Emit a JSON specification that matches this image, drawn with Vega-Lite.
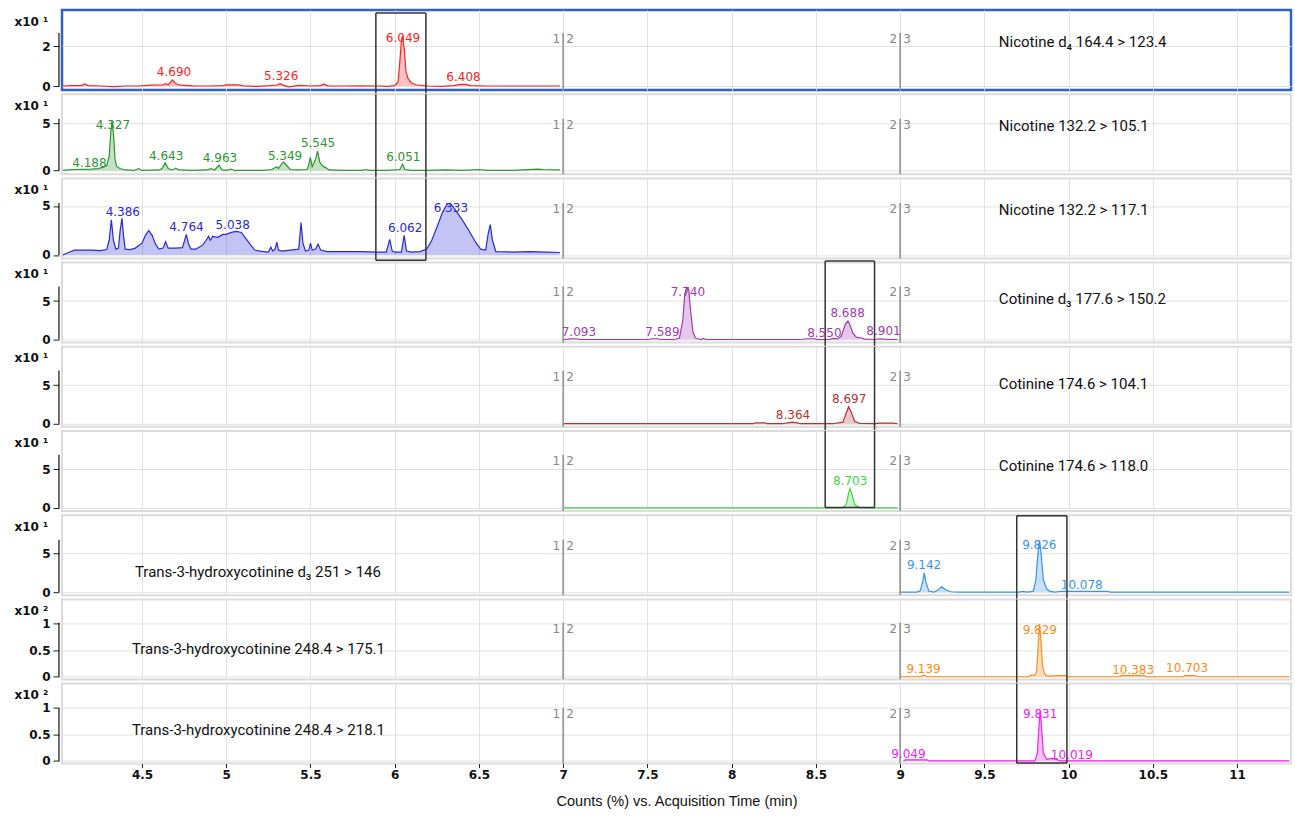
{
"$schema": "https://vega.github.io/schema/vega-lite/v6.json",
"background": "white",
"padding": {"left": 12, "top": 8, "right": 0, "bottom": 0},
"bounds": "flush",
"spacing": 4.2,
"config": {
  "view": {"stroke": "#dcdcdc", "strokeWidth": 2},
  "axis": {"gridColor": "#e2e2e2", "gridWidth": 1, "labelColor": "#111", "tickColor": "#222", "labelFont": "DejaVu Sans", "titleFont": "DejaVu Sans", "titleColor": "#111"},
  "axisY": {"labelOverlap": false, "labelBound": false},
  "text": {"font": "DejaVu Sans"}
},
"datasets": {
  "seg": [{"s": 7, "a": "1", "b": "2"}, {"s": 9, "a": "2", "b": "3"}],
  "box": [{"b": 1, "x": 5.888}, {"b": 1, "x": 6.185}, {"b": 2, "x": 8.555}, {"b": 2, "x": 8.848}, {"b": 3, "x": 9.692}, {"b": 3, "x": 9.99}],
  "peaks": [
    {"p": 1, "rt": 4.690, "ly": 0.7, "lab": "4.690"},
    {"p": 1, "rt": 5.326, "ly": 0.5, "lab": "5.326"},
    {"p": 1, "rt": 6.049, "ly": 2.38, "lab": "6.049"},
    {"p": 1, "rt": 6.408, "ly": 0.45, "lab": "6.408"},
    {"p": 2, "rt": 4.188, "ly": 0.81, "lab": "4.188"},
    {"p": 2, "rt": 4.327, "ly": 4.85, "lab": "4.327"},
    {"p": 2, "rt": 4.643, "ly": 1.49, "lab": "4.643"},
    {"p": 2, "rt": 4.963, "ly": 1.31, "lab": "4.963"},
    {"p": 2, "rt": 5.349, "ly": 1.52, "lab": "5.349"},
    {"p": 2, "rt": 5.545, "ly": 2.94, "lab": "5.545"},
    {"p": 2, "rt": 6.051, "ly": 1.38, "lab": "6.051"},
    {"p": 3, "rt": 4.386, "ly": 4.42, "lab": "4.386"},
    {"p": 3, "rt": 4.764, "ly": 2.82, "lab": "4.764"},
    {"p": 3, "rt": 5.038, "ly": 3.06, "lab": "5.038"},
    {"p": 3, "rt": 6.062, "ly": 2.71, "lab": "6.062"},
    {"p": 3, "rt": 6.333, "ly": 4.76, "lab": "6.333"},
    {"p": 4, "rt": 7.093, "ly": 1.0, "lab": "7.093"},
    {"p": 4, "rt": 7.589, "ly": 1.0, "lab": "7.589"},
    {"p": 4, "rt": 7.740, "ly": 6.19, "lab": "7.740"},
    {"p": 4, "rt": 8.550, "ly": 0.91, "lab": "8.550"},
    {"p": 4, "rt": 8.688, "ly": 3.46, "lab": "8.688"},
    {"p": 4, "rt": 8.901, "ly": 1.13, "lab": "8.901"},
    {"p": 5, "rt": 8.364, "ly": 1.12, "lab": "8.364"},
    {"p": 5, "rt": 8.697, "ly": 3.16, "lab": "8.697"},
    {"p": 6, "rt": 8.703, "ly": 3.46, "lab": "8.703"},
    {"p": 7, "rt": 9.142, "ly": 3.5, "lab": "9.142"},
    {"p": 7, "rt": 9.826, "ly": 6.18, "lab": "9.826"},
    {"p": 7, "rt": 10.078, "ly": 0.9, "lab": "10.078"},
    {"p": 8, "rt": 9.139, "ly": 0.14, "lab": "9.139"},
    {"p": 8, "rt": 9.829, "ly": 0.88, "lab": "9.829"},
    {"p": 8, "rt": 10.383, "ly": 0.13, "lab": "10.383"},
    {"p": 8, "rt": 10.703, "ly": 0.16, "lab": "10.703"},
    {"p": 9, "rt": 9.049, "ly": 0.14, "lab": "9.049"},
    {"p": 9, "rt": 9.831, "ly": 0.88, "lab": "9.831"},
    {"p": 9, "rt": 10.019, "ly": 0.12, "lab": "10.019"}
  ],
  "trace": [
    {"p":1,"t":4.03,"v":0},{"p":1,"t":4.08,"v":0.02},{"p":1,"t":4.14,"v":0.02},{"p":1,"t":4.16,"v":0.1},{"p":1,"t":4.18,"v":0.02},{"p":1,"t":4.25,"v":0},{"p":1,"t":4.33,"v":-0.03},{"p":1,"t":4.4,"v":0},{"p":1,"t":4.48,"v":0},{"p":1,"t":4.55,"v":0.04},{"p":1,"t":4.62,"v":0.05},{"p":1,"t":4.64,"v":0.12},{"p":1,"t":4.655,"v":0.05},{"p":1,"t":4.68,"v":0.3},{"p":1,"t":4.7,"v":0.12},{"p":1,"t":4.73,"v":0.04},{"p":1,"t":4.8,"v":0.01},{"p":1,"t":4.9,"v":0},{"p":1,"t":4.98,"v":0.02},{"p":1,"t":5.0,"v":0.06},{"p":1,"t":5.07,"v":0.06},{"p":1,"t":5.1,"v":0.01},{"p":1,"t":5.18,"v":-0.02},{"p":1,"t":5.26,"v":0.02},{"p":1,"t":5.3,"v":0.05},{"p":1,"t":5.32,"v":0.12},{"p":1,"t":5.34,"v":0.03},{"p":1,"t":5.37,"v":-0.04},{"p":1,"t":5.43,"v":0.03},{"p":1,"t":5.5,"v":0},{"p":1,"t":5.56,"v":0.02},{"p":1,"t":5.58,"v":0.1},{"p":1,"t":5.6,"v":0.01},{"p":1,"t":5.7,"v":0},{"p":1,"t":5.8,"v":0.01},{"p":1,"t":5.9,"v":0},{"p":1,"t":5.96,"v":-0.02},{"p":1,"t":6.0,"v":0.02},{"p":1,"t":6.02,"v":0.2},{"p":1,"t":6.03,"v":1.2},{"p":1,"t":6.04,"v":2.3},{"p":1,"t":6.047,"v":2.5},{"p":1,"t":6.057,"v":1.8},{"p":1,"t":6.067,"v":0.7},{"p":1,"t":6.08,"v":0.35},{"p":1,"t":6.1,"v":0.15},{"p":1,"t":6.13,"v":0.05},{"p":1,"t":6.2,"v":0},{"p":1,"t":6.28,"v":-0.02},{"p":1,"t":6.35,"v":0.02},{"p":1,"t":6.39,"v":0.08},{"p":1,"t":6.42,"v":0.08},{"p":1,"t":6.45,"v":0.02},{"p":1,"t":6.55,"v":0},{"p":1,"t":6.7,"v":0},{"p":1,"t":6.85,"v":0},{"p":1,"t":6.98,"v":0},
    {"p":2,"t":4.03,"v":0},{"p":2,"t":4.06,"v":0.05},{"p":2,"t":4.1,"v":0.1},{"p":2,"t":4.15,"v":0.12},{"p":2,"t":4.2,"v":0.15},{"p":2,"t":4.24,"v":0.2},{"p":2,"t":4.27,"v":0.35},{"p":2,"t":4.29,"v":0.5},{"p":2,"t":4.305,"v":1.5},{"p":2,"t":4.315,"v":4.2},{"p":2,"t":4.322,"v":5.3},{"p":2,"t":4.33,"v":4.0},{"p":2,"t":4.34,"v":1.2},{"p":2,"t":4.35,"v":0.4},{"p":2,"t":4.37,"v":0.2},{"p":2,"t":4.4,"v":0.05},{"p":2,"t":4.45,"v":0},{"p":2,"t":4.48,"v":0.2},{"p":2,"t":4.5,"v":0},{"p":2,"t":4.6,"v":0.05},{"p":2,"t":4.62,"v":0.2},{"p":2,"t":4.638,"v":0.8},{"p":2,"t":4.655,"v":0.2},{"p":2,"t":4.68,"v":0.05},{"p":2,"t":4.7,"v":0.25},{"p":2,"t":4.72,"v":0.05},{"p":2,"t":4.8,"v":0},{"p":2,"t":4.88,"v":0.05},{"p":2,"t":4.91,"v":0.2},{"p":2,"t":4.93,"v":0.05},{"p":2,"t":4.957,"v":0.55},{"p":2,"t":4.975,"v":0.05},{"p":2,"t":5.0,"v":0},{"p":2,"t":5.03,"v":0.15},{"p":2,"t":5.05,"v":0},{"p":2,"t":5.15,"v":0},{"p":2,"t":5.22,"v":0},{"p":2,"t":5.27,"v":0.1},{"p":2,"t":5.3,"v":0.4},{"p":2,"t":5.31,"v":0.2},{"p":2,"t":5.325,"v":0.6},{"p":2,"t":5.34,"v":0.9},{"p":2,"t":5.36,"v":0.5},{"p":2,"t":5.38,"v":0.1},{"p":2,"t":5.42,"v":0.05},{"p":2,"t":5.48,"v":0.1},{"p":2,"t":5.49,"v":0.6},{"p":2,"t":5.499,"v":1.4},{"p":2,"t":5.51,"v":0.4},{"p":2,"t":5.53,"v":1.2},{"p":2,"t":5.542,"v":2.05},{"p":2,"t":5.555,"v":0.9},{"p":2,"t":5.57,"v":0.5},{"p":2,"t":5.59,"v":0.3},{"p":2,"t":5.61,"v":0.05},{"p":2,"t":5.7,"v":0},{"p":2,"t":5.8,"v":0},{"p":2,"t":5.83,"v":0.1},{"p":2,"t":5.85,"v":0},{"p":2,"t":5.95,"v":0},{"p":2,"t":6.03,"v":0.1},{"p":2,"t":6.047,"v":0.65},{"p":2,"t":6.06,"v":0.1},{"p":2,"t":6.1,"v":0},{"p":2,"t":6.2,"v":0},{"p":2,"t":6.3,"v":0.05},{"p":2,"t":6.4,"v":0},{"p":2,"t":6.5,"v":0.1},{"p":2,"t":6.55,"v":0},{"p":2,"t":6.7,"v":0},{"p":2,"t":6.85,"v":0.15},{"p":2,"t":6.88,"v":0.1},{"p":2,"t":6.98,"v":0.05},
    {"p":3,"t":4.03,"v":0},{"p":3,"t":4.07,"v":0.3},{"p":3,"t":4.1,"v":0.5},{"p":3,"t":4.2,"v":0.5},{"p":3,"t":4.25,"v":0.45},{"p":3,"t":4.29,"v":0.55},{"p":3,"t":4.305,"v":1.5},{"p":3,"t":4.318,"v":3.6},{"p":3,"t":4.33,"v":1.5},{"p":3,"t":4.345,"v":0.6},{"p":3,"t":4.36,"v":0.7},{"p":3,"t":4.37,"v":2.5},{"p":3,"t":4.381,"v":3.75},{"p":3,"t":4.39,"v":2.0},{"p":3,"t":4.4,"v":0.6},{"p":3,"t":4.43,"v":0.55},{"p":3,"t":4.46,"v":0.7},{"p":3,"t":4.5,"v":1.2},{"p":3,"t":4.52,"v":2.0},{"p":3,"t":4.54,"v":2.5},{"p":3,"t":4.56,"v":2.0},{"p":3,"t":4.58,"v":1.1},{"p":3,"t":4.6,"v":0.6},{"p":3,"t":4.625,"v":0.7},{"p":3,"t":4.64,"v":1.35},{"p":3,"t":4.655,"v":0.7},{"p":3,"t":4.7,"v":0.7},{"p":3,"t":4.74,"v":0.75},{"p":3,"t":4.753,"v":1.5},{"p":3,"t":4.763,"v":2.1},{"p":3,"t":4.775,"v":1.2},{"p":3,"t":4.79,"v":0.6},{"p":3,"t":4.82,"v":0.6},{"p":3,"t":4.86,"v":1.0},{"p":3,"t":4.88,"v":1.5},{"p":3,"t":4.895,"v":1.9},{"p":3,"t":4.905,"v":1.5},{"p":3,"t":4.92,"v":1.9},{"p":3,"t":4.95,"v":1.8},{"p":3,"t":4.98,"v":2.1},{"p":3,"t":5.0,"v":2.1},{"p":3,"t":5.03,"v":2.3},{"p":3,"t":5.06,"v":2.4},{"p":3,"t":5.09,"v":2.3},{"p":3,"t":5.12,"v":1.6},{"p":3,"t":5.15,"v":0.9},{"p":3,"t":5.17,"v":0.5},{"p":3,"t":5.2,"v":0.4},{"p":3,"t":5.25,"v":0.3},{"p":3,"t":5.265,"v":0.8},{"p":3,"t":5.275,"v":0.4},{"p":3,"t":5.29,"v":0.6},{"p":3,"t":5.3,"v":1.3},{"p":3,"t":5.31,"v":0.5},{"p":3,"t":5.33,"v":0.4},{"p":3,"t":5.43,"v":0.6},{"p":3,"t":5.444,"v":3.3},{"p":3,"t":5.455,"v":1.2},{"p":3,"t":5.47,"v":0.4},{"p":3,"t":5.49,"v":0.5},{"p":3,"t":5.5,"v":1.2},{"p":3,"t":5.51,"v":0.5},{"p":3,"t":5.53,"v":0.6},{"p":3,"t":5.545,"v":1.1},{"p":3,"t":5.56,"v":0.5},{"p":3,"t":5.6,"v":0.35},{"p":3,"t":5.7,"v":0.35},{"p":3,"t":5.8,"v":0.35},{"p":3,"t":5.9,"v":0.3},{"p":3,"t":5.95,"v":0.3},{"p":3,"t":5.97,"v":1.6},{"p":3,"t":5.985,"v":0.4},{"p":3,"t":6.0,"v":0.3},{"p":3,"t":6.04,"v":0.3},{"p":3,"t":6.056,"v":2.0},{"p":3,"t":6.07,"v":0.4},{"p":3,"t":6.1,"v":0.3},{"p":3,"t":6.15,"v":0.35},{"p":3,"t":6.19,"v":0.6},{"p":3,"t":6.22,"v":1.5},{"p":3,"t":6.25,"v":2.8},{"p":3,"t":6.28,"v":4.2},{"p":3,"t":6.31,"v":5.2},{"p":3,"t":6.33,"v":5.27},{"p":3,"t":6.36,"v":4.6},{"p":3,"t":6.4,"v":3.6},{"p":3,"t":6.44,"v":2.5},{"p":3,"t":6.48,"v":1.3},{"p":3,"t":6.51,"v":0.6},{"p":3,"t":6.54,"v":0.5},{"p":3,"t":6.555,"v":2.2},{"p":3,"t":6.567,"v":3.1},{"p":3,"t":6.58,"v":1.5},{"p":3,"t":6.6,"v":0.35},{"p":3,"t":6.7,"v":0.3},{"p":3,"t":6.8,"v":0.35},{"p":3,"t":6.9,"v":0.3},{"p":3,"t":6.98,"v":0.25},
    {"p":4,"t":7.0,"v":0},{"p":4,"t":7.03,"v":0.05},{"p":4,"t":7.05,"v":0.1},{"p":4,"t":7.08,"v":0.1},{"p":4,"t":7.1,"v":0},{"p":4,"t":7.2,"v":0},{"p":4,"t":7.3,"v":0},{"p":4,"t":7.4,"v":0},{"p":4,"t":7.5,"v":0},{"p":4,"t":7.53,"v":0.1},{"p":4,"t":7.56,"v":0.1},{"p":4,"t":7.58,"v":0},{"p":4,"t":7.66,"v":0},{"p":4,"t":7.69,"v":0.2},{"p":4,"t":7.71,"v":2.5},{"p":4,"t":7.722,"v":6.0},{"p":4,"t":7.733,"v":6.8},{"p":4,"t":7.745,"v":6.5},{"p":4,"t":7.755,"v":4.0},{"p":4,"t":7.77,"v":1.0},{"p":4,"t":7.785,"v":0.2},{"p":4,"t":7.8,"v":0.1},{"p":4,"t":7.82,"v":0},{"p":4,"t":7.83,"v":0.15},{"p":4,"t":7.85,"v":0},{"p":4,"t":8.0,"v":0},{"p":4,"t":8.2,"v":0},{"p":4,"t":8.4,"v":0},{"p":4,"t":8.45,"v":0.1},{"p":4,"t":8.49,"v":0.1},{"p":4,"t":8.51,"v":0},{"p":4,"t":8.58,"v":0},{"p":4,"t":8.6,"v":0.15},{"p":4,"t":8.63,"v":0.1},{"p":4,"t":8.65,"v":0.4},{"p":4,"t":8.675,"v":2.0},{"p":4,"t":8.69,"v":2.4},{"p":4,"t":8.7,"v":2.0},{"p":4,"t":8.72,"v":0.8},{"p":4,"t":8.74,"v":0.3},{"p":4,"t":8.77,"v":0.2},{"p":4,"t":8.79,"v":0.05},{"p":4,"t":8.85,"v":0},{"p":4,"t":8.88,"v":0.1},{"p":4,"t":8.9,"v":0.05},{"p":4,"t":8.95,"v":0},{"p":4,"t":8.985,"v":0},
    {"p":5,"t":7.0,"v":0},{"p":5,"t":7.5,"v":0},{"p":5,"t":8.0,"v":0},{"p":5,"t":8.13,"v":0},{"p":5,"t":8.14,"v":0.12},{"p":5,"t":8.2,"v":0.12},{"p":5,"t":8.21,"v":0},{"p":5,"t":8.3,"v":0},{"p":5,"t":8.33,"v":0.1},{"p":5,"t":8.36,"v":0.2},{"p":5,"t":8.39,"v":0.1},{"p":5,"t":8.41,"v":0},{"p":5,"t":8.6,"v":0},{"p":5,"t":8.66,"v":0.2},{"p":5,"t":8.68,"v":1.4},{"p":5,"t":8.694,"v":2.2},{"p":5,"t":8.71,"v":1.5},{"p":5,"t":8.73,"v":0.3},{"p":5,"t":8.76,"v":0.05},{"p":5,"t":8.85,"v":0},{"p":5,"t":8.88,"v":0.08},{"p":5,"t":8.96,"v":0.08},{"p":5,"t":8.985,"v":0},
    {"p":6,"t":7.0,"v":0},{"p":6,"t":8.0,"v":0},{"p":6,"t":8.66,"v":0},{"p":6,"t":8.68,"v":0.5},{"p":6,"t":8.695,"v":2.0},{"p":6,"t":8.703,"v":2.5},{"p":6,"t":8.715,"v":1.7},{"p":6,"t":8.73,"v":0.4},{"p":6,"t":8.76,"v":0.05},{"p":6,"t":8.8,"v":0},{"p":6,"t":8.985,"v":0},
    {"p":7,"t":9.0,"v":0},{"p":7,"t":9.1,"v":0},{"p":7,"t":9.12,"v":0.2},{"p":7,"t":9.135,"v":1.5},{"p":7,"t":9.143,"v":2.5},{"p":7,"t":9.153,"v":1.3},{"p":7,"t":9.17,"v":0.15},{"p":7,"t":9.2,"v":0},{"p":7,"t":9.22,"v":0.2},{"p":7,"t":9.247,"v":0.7},{"p":7,"t":9.27,"v":0.3},{"p":7,"t":9.3,"v":0.05},{"p":7,"t":9.35,"v":0},{"p":7,"t":9.5,"v":0},{"p":7,"t":9.7,"v":0},{"p":7,"t":9.73,"v":0.1},{"p":7,"t":9.75,"v":0},{"p":7,"t":9.79,"v":0.1},{"p":7,"t":9.805,"v":1.5},{"p":7,"t":9.818,"v":5.0},{"p":7,"t":9.827,"v":6.7},{"p":7,"t":9.836,"v":5.2},{"p":7,"t":9.85,"v":1.6},{"p":7,"t":9.87,"v":0.4},{"p":7,"t":9.89,"v":0.1},{"p":7,"t":9.92,"v":0},{"p":7,"t":9.95,"v":0.1},{"p":7,"t":10.23,"v":0.1},{"p":7,"t":10.25,"v":0},{"p":7,"t":10.5,"v":0},{"p":7,"t":11.0,"v":0},{"p":7,"t":11.31,"v":0},
    {"p":8,"t":9.0,"v":0},{"p":8,"t":9.12,"v":0},{"p":8,"t":9.14,"v":0.03},{"p":8,"t":9.16,"v":0},{"p":8,"t":9.5,"v":0},{"p":8,"t":9.76,"v":0},{"p":8,"t":9.78,"v":0.03},{"p":8,"t":9.8,"v":0.03},{"p":8,"t":9.81,"v":0.1},{"p":8,"t":9.82,"v":0.6},{"p":8,"t":9.827,"v":1.0},{"p":8,"t":9.835,"v":0.7},{"p":8,"t":9.845,"v":0.2},{"p":8,"t":9.86,"v":0.04},{"p":8,"t":9.88,"v":0.01},{"p":8,"t":9.95,"v":0.02},{"p":8,"t":9.98,"v":0.02},{"p":8,"t":10.0,"v":0},{"p":8,"t":10.3,"v":0},{"p":8,"t":10.31,"v":0.02},{"p":8,"t":10.45,"v":0.02},{"p":8,"t":10.46,"v":0},{"p":8,"t":10.68,"v":0},{"p":8,"t":10.69,"v":0.02},{"p":8,"t":10.75,"v":0.02},{"p":8,"t":10.76,"v":0},{"p":8,"t":11.0,"v":0},{"p":8,"t":11.31,"v":0},
    {"p":9,"t":9.02,"v":0},{"p":9,"t":9.03,"v":0.02},{"p":9,"t":9.16,"v":0.02},{"p":9,"t":9.17,"v":0},{"p":9,"t":9.5,"v":0},{"p":9,"t":9.8,"v":0},{"p":9,"t":9.815,"v":0.15},{"p":9,"t":9.825,"v":0.7},{"p":9,"t":9.832,"v":0.95},{"p":9,"t":9.84,"v":0.6},{"p":9,"t":9.85,"v":0.15},{"p":9,"t":9.87,"v":0.03},{"p":9,"t":9.9,"v":0.05},{"p":9,"t":9.93,"v":0.03},{"p":9,"t":9.95,"v":0},{"p":9,"t":10.5,"v":0},{"p":9,"t":11.0,"v":0},{"p":9,"t":11.31,"v":0}
  ]
},
"vconcat": [
{
  "width": 1229, "height": 80,
  "view": {"stroke": "#2b62cc", "strokeWidth": 2.5},
  "layer": [
    {"data": {"name": "trace"}, "transform": [{"filter": "datum.p == 1"}], "mark": {"type": "area", "color": "#ff2222", "opacity": 0.28},
     "encoding": {"x": {"field": "t", "type": "quantitative", "scale": {"domain": [4.025, 11.32], "nice": false, "zero": false}, "axis": {"values": [4.5,5,5.5,6,6.5,7,7.5,8,8.5,9,9.5,10,10.5,11], "labels": false, "ticks": false, "domain": false, "title": null, "grid": true}},
                  "y": {"field": "v", "type": "quantitative", "scale": {"domain": [-0.2, 3.8], "nice": false, "zero": false}, "axis": {"values": [0, 2], "format": "~g", "domain": false, "offset": 3, "tickSize": 6, "labelPadding": 3, "labelFontSize": 12, "labelFontWeight": "bold", "title": "x10 ¹", "titleAngle": 0, "titleAlign": "left", "titleBaseline": "middle", "titleX": -45, "titleY": 11, "titleFontSize": 12, "titleFontWeight": "bold", "grid": true}}}},
    {"data": {"name": "trace"}, "transform": [{"filter": "datum.p == 1"}], "mark": {"type": "line", "color": "#ff2222", "strokeWidth": 1.2},
     "encoding": {"x": {"field": "t", "type": "quantitative"}, "y": {"field": "v", "type": "quantitative"}}},
    {"data": {"values": [{}]}, "mark": {"type": "rule", "color": "#111", "strokeWidth": 1.2}, "encoding": {"x": {"datum": 4.007}, "y": {"datum": 0}, "y2": {"datum": 2.65}}},
    {"data": {"name": "seg"}, "mark": {"type": "rule", "color": "#9a9a9a", "strokeWidth": 1.8}, "encoding": {"x": {"field": "s", "type": "quantitative"}, "y": {"datum": 2.65}, "y2": {"datum": -0.2}}},
    {"data": {"name": "seg"}, "mark": {"type": "text", "align": "right", "baseline": "top", "dx": -3, "dy": 1, "color": "#888", "fontSize": 12}, "encoding": {"x": {"field": "s", "type": "quantitative"}, "y": {"datum": 2.65}, "text": {"field": "a"}}},
    {"data": {"name": "seg"}, "mark": {"type": "text", "align": "left", "baseline": "top", "dx": 3, "dy": 1, "color": "#888", "fontSize": 12}, "encoding": {"x": {"field": "s", "type": "quantitative"}, "y": {"datum": 2.65}, "text": {"field": "b"}}},
    {"data": {"name": "box"}, "transform": [{"filter": "datum.b == 1"}], "mark": {"type": "rule", "color": "#333", "strokeWidth": 1.5}, "encoding": {"x": {"field": "x", "type": "quantitative"}, "y": {"datum": 3.65}, "y2": {"datum": -0.41}}},
    {"data": {"values": [{}]}, "mark": {"type": "rule", "color": "#333", "strokeWidth": 1.5}, "encoding": {"x": {"datum": 5.888}, "x2": {"datum": 6.185}, "y": {"datum": 3.65}}},
    {"data": {"name": "peaks"}, "transform": [{"filter": "datum.p == 1"}], "mark": {"type": "text", "color": "#ff2222", "fontSize": 12, "baseline": "middle"}, "encoding": {"x": {"field": "rt", "type": "quantitative"}, "y": {"field": "ly", "type": "quantitative"}, "text": {"field": "lab"}}},
    {"data": {"values": [{}]}, "mark": {"type": "text", "align": "left", "baseline": "middle", "font": "Roboto", "fontSize": 15, "color": "#111"}, "encoding": {"x": {"datum": 9.586}, "y": {"datum": 2.2}, "text": {"value": "Nicotine d₄ 164.4 > 123.4"}}}
  ]
},
{
  "width": 1229, "height": 80,
  "layer": [
    {"data": {"name": "trace"}, "transform": [{"filter": "datum.p == 2"}], "mark": {"type": "area", "color": "#2e962e", "opacity": 0.28},
     "encoding": {"x": {"field": "t", "type": "quantitative", "scale": {"domain": [4.025, 11.32], "nice": false, "zero": false}, "axis": {"values": [4.5,5,5.5,6,6.5,7,7.5,8,8.5,9,9.5,10,10.5,11], "labels": false, "ticks": false, "domain": false, "title": null, "grid": true}},
                  "y": {"field": "v", "type": "quantitative", "scale": {"domain": [-0.4, 8.111], "nice": false, "zero": false}, "axis": {"values": [0, 5], "format": "~g", "domain": false, "offset": 3, "tickSize": 6, "labelPadding": 3, "labelFontSize": 12, "labelFontWeight": "bold", "title": "x10 ¹", "titleAngle": 0, "titleAlign": "left", "titleBaseline": "middle", "titleX": -45, "titleY": 11, "titleFontSize": 12, "titleFontWeight": "bold", "grid": true}}}},
    {"data": {"name": "trace"}, "transform": [{"filter": "datum.p == 2"}], "mark": {"type": "line", "color": "#2e962e", "strokeWidth": 1.2},
     "encoding": {"x": {"field": "t", "type": "quantitative"}, "y": {"field": "v", "type": "quantitative"}}},
    {"data": {"values": [{}]}, "mark": {"type": "rule", "color": "#111", "strokeWidth": 1.2}, "encoding": {"x": {"datum": 4.007}, "y": {"datum": 0}, "y2": {"datum": 5.5}}},
    {"data": {"name": "seg"}, "mark": {"type": "rule", "color": "#9a9a9a", "strokeWidth": 1.8}, "encoding": {"x": {"field": "s", "type": "quantitative"}, "y": {"datum": 5.5}, "y2": {"datum": -0.4}}},
    {"data": {"name": "seg"}, "mark": {"type": "text", "align": "right", "baseline": "top", "dx": -3, "dy": 1, "color": "#888", "fontSize": 12}, "encoding": {"x": {"field": "s", "type": "quantitative"}, "y": {"datum": 5.5}, "text": {"field": "a"}}},
    {"data": {"name": "seg"}, "mark": {"type": "text", "align": "left", "baseline": "top", "dx": 3, "dy": 1, "color": "#888", "fontSize": 12}, "encoding": {"x": {"field": "s", "type": "quantitative"}, "y": {"datum": 5.5}, "text": {"field": "b"}}},
    {"data": {"name": "box"}, "transform": [{"filter": "datum.b == 1"}], "mark": {"type": "rule", "color": "#333", "strokeWidth": 1.5}, "encoding": {"x": {"field": "x", "type": "quantitative"}, "y": {"datum": 8.111}, "y2": {"datum": -0.847}}},
    {"data": {"name": "peaks"}, "transform": [{"filter": "datum.p == 2"}], "mark": {"type": "text", "color": "#2e962e", "fontSize": 12, "baseline": "middle"}, "encoding": {"x": {"field": "rt", "type": "quantitative"}, "y": {"field": "ly", "type": "quantitative"}, "text": {"field": "lab"}}},
    {"data": {"values": [{}]}, "mark": {"type": "text", "align": "left", "baseline": "middle", "font": "Roboto", "fontSize": 15, "color": "#111"}, "encoding": {"x": {"datum": 9.586}, "y": {"datum": 4.7}, "text": {"value": "Nicotine 132.2 > 105.1"}}}
  ]
},
{
  "width": 1229, "height": 80,
  "layer": [
    {"data": {"name": "trace"}, "transform": [{"filter": "datum.p == 3"}], "mark": {"type": "area", "color": "#2a2ad8", "opacity": 0.28},
     "encoding": {"x": {"field": "t", "type": "quantitative", "scale": {"domain": [4.025, 11.32], "nice": false, "zero": false}, "axis": {"values": [4.5,5,5.5,6,6.5,7,7.5,8,8.5,9,9.5,10,10.5,11], "labels": false, "ticks": false, "domain": false, "title": null, "grid": true}},
                  "y": {"field": "v", "type": "quantitative", "scale": {"domain": [-0.35, 7.813], "nice": false, "zero": false}, "axis": {"values": [0, 5], "format": "~g", "domain": false, "offset": 3, "tickSize": 6, "labelPadding": 3, "labelFontSize": 12, "labelFontWeight": "bold", "title": "x10 ¹", "titleAngle": 0, "titleAlign": "left", "titleBaseline": "middle", "titleX": -45, "titleY": 11, "titleFontSize": 12, "titleFontWeight": "bold", "grid": true}}}},
    {"data": {"name": "trace"}, "transform": [{"filter": "datum.p == 3"}], "mark": {"type": "line", "color": "#2a2ad8", "strokeWidth": 1.2},
     "encoding": {"x": {"field": "t", "type": "quantitative"}, "y": {"field": "v", "type": "quantitative"}}},
    {"data": {"values": [{}]}, "mark": {"type": "rule", "color": "#111", "strokeWidth": 1.2}, "encoding": {"x": {"datum": 4.007}, "y": {"datum": 0}, "y2": {"datum": 5.3}}},
    {"data": {"name": "seg"}, "mark": {"type": "rule", "color": "#9a9a9a", "strokeWidth": 1.8}, "encoding": {"x": {"field": "s", "type": "quantitative"}, "y": {"datum": 5.3}, "y2": {"datum": -0.35}}},
    {"data": {"name": "seg"}, "mark": {"type": "text", "align": "right", "baseline": "top", "dx": -3, "dy": 1, "color": "#888", "fontSize": 12}, "encoding": {"x": {"field": "s", "type": "quantitative"}, "y": {"datum": 5.3}, "text": {"field": "a"}}},
    {"data": {"name": "seg"}, "mark": {"type": "text", "align": "left", "baseline": "top", "dx": 3, "dy": 1, "color": "#888", "fontSize": 12}, "encoding": {"x": {"field": "s", "type": "quantitative"}, "y": {"datum": 5.3}, "text": {"field": "b"}}},
    {"data": {"name": "box"}, "transform": [{"filter": "datum.b == 1"}], "mark": {"type": "rule", "color": "#333", "strokeWidth": 1.5}, "encoding": {"x": {"field": "x", "type": "quantitative"}, "y": {"datum": 7.813}, "y2": {"datum": -0.54}}},
    {"data": {"values": [{}]}, "mark": {"type": "rule", "color": "#333", "strokeWidth": 1.5}, "encoding": {"x": {"datum": 5.888}, "x2": {"datum": 6.185}, "y": {"datum": -0.54}}},
    {"data": {"name": "peaks"}, "transform": [{"filter": "datum.p == 3"}], "mark": {"type": "text", "color": "#2a2ad8", "fontSize": 12, "baseline": "middle"}, "encoding": {"x": {"field": "rt", "type": "quantitative"}, "y": {"field": "ly", "type": "quantitative"}, "text": {"field": "lab"}}},
    {"data": {"values": [{}]}, "mark": {"type": "text", "align": "left", "baseline": "middle", "font": "Roboto", "fontSize": 15, "color": "#111"}, "encoding": {"x": {"datum": 9.586}, "y": {"datum": 4.6}, "text": {"value": "Nicotine 132.2 > 117.1"}}}
  ]
},
{
  "width": 1229, "height": 80,
  "layer": [
    {"data": {"name": "trace"}, "transform": [{"filter": "datum.p == 4"}], "mark": {"type": "area", "color": "#a23bb0", "opacity": 0.28},
     "encoding": {"x": {"field": "t", "type": "quantitative", "scale": {"domain": [4.025, 11.32], "nice": false, "zero": false}, "axis": {"values": [4.5,5,5.5,6,6.5,7,7.5,8,8.5,9,9.5,10,10.5,11], "labels": false, "ticks": false, "domain": false, "title": null, "grid": true}},
                  "y": {"field": "v", "type": "quantitative", "scale": {"domain": [-0.4, 9.99], "nice": false, "zero": false}, "axis": {"values": [0, 5], "format": "~g", "domain": false, "offset": 3, "tickSize": 6, "labelPadding": 3, "labelFontSize": 12, "labelFontWeight": "bold", "title": "x10 ¹", "titleAngle": 0, "titleAlign": "left", "titleBaseline": "middle", "titleX": -45, "titleY": 11, "titleFontSize": 12, "titleFontWeight": "bold", "grid": true}}}},
    {"data": {"name": "trace"}, "transform": [{"filter": "datum.p == 4"}], "mark": {"type": "line", "color": "#a23bb0", "strokeWidth": 1.2},
     "encoding": {"x": {"field": "t", "type": "quantitative"}, "y": {"field": "v", "type": "quantitative"}}},
    {"data": {"values": [{}]}, "mark": {"type": "rule", "color": "#111", "strokeWidth": 1.2}, "encoding": {"x": {"datum": 4.007}, "y": {"datum": 0}, "y2": {"datum": 6.9}}},
    {"data": {"name": "seg"}, "mark": {"type": "rule", "color": "#9a9a9a", "strokeWidth": 1.8}, "encoding": {"x": {"field": "s", "type": "quantitative"}, "y": {"datum": 6.9}, "y2": {"datum": -0.4}}},
    {"data": {"name": "seg"}, "mark": {"type": "text", "align": "right", "baseline": "top", "dx": -3, "dy": 1, "color": "#888", "fontSize": 12}, "encoding": {"x": {"field": "s", "type": "quantitative"}, "y": {"datum": 6.9}, "text": {"field": "a"}}},
    {"data": {"name": "seg"}, "mark": {"type": "text", "align": "left", "baseline": "top", "dx": 3, "dy": 1, "color": "#888", "fontSize": 12}, "encoding": {"x": {"field": "s", "type": "quantitative"}, "y": {"datum": 6.9}, "text": {"field": "b"}}},
    {"data": {"name": "box"}, "transform": [{"filter": "datum.b == 2"}], "mark": {"type": "rule", "color": "#333", "strokeWidth": 1.5}, "encoding": {"x": {"field": "x", "type": "quantitative"}, "y": {"datum": 10.19}, "y2": {"datum": -0.945}}},
    {"data": {"values": [{}]}, "mark": {"type": "rule", "color": "#333", "strokeWidth": 1.5}, "encoding": {"x": {"datum": 8.555}, "x2": {"datum": 8.848}, "y": {"datum": 10.19}}},
    {"data": {"name": "peaks"}, "transform": [{"filter": "datum.p == 4"}], "mark": {"type": "text", "color": "#a23bb0", "fontSize": 12, "baseline": "middle"}, "encoding": {"x": {"field": "rt", "type": "quantitative"}, "y": {"field": "ly", "type": "quantitative"}, "text": {"field": "lab"}}},
    {"data": {"values": [{}]}, "mark": {"type": "text", "align": "left", "baseline": "middle", "font": "Roboto", "fontSize": 15, "color": "#111"}, "encoding": {"x": {"datum": 9.586}, "y": {"datum": 5.3}, "text": {"value": "Cotinine d₃ 177.6 > 150.2"}}}
  ]
},
{
  "width": 1229, "height": 80,
  "layer": [
    {"data": {"name": "trace"}, "transform": [{"filter": "datum.p == 5"}], "mark": {"type": "area", "color": "#b83232", "opacity": 0.28},
     "encoding": {"x": {"field": "t", "type": "quantitative", "scale": {"domain": [4.025, 11.32], "nice": false, "zero": false}, "axis": {"values": [4.5,5,5.5,6,6.5,7,7.5,8,8.5,9,9.5,10,10.5,11], "labels": false, "ticks": false, "domain": false, "title": null, "grid": true}},
                  "y": {"field": "v", "type": "quantitative", "scale": {"domain": [-0.4, 9.99], "nice": false, "zero": false}, "axis": {"values": [0, 5], "format": "~g", "domain": false, "offset": 3, "tickSize": 6, "labelPadding": 3, "labelFontSize": 12, "labelFontWeight": "bold", "title": "x10 ¹", "titleAngle": 0, "titleAlign": "left", "titleBaseline": "middle", "titleX": -45, "titleY": 11, "titleFontSize": 12, "titleFontWeight": "bold", "grid": true}}}},
    {"data": {"name": "trace"}, "transform": [{"filter": "datum.p == 5"}], "mark": {"type": "line", "color": "#b83232", "strokeWidth": 1.2},
     "encoding": {"x": {"field": "t", "type": "quantitative"}, "y": {"field": "v", "type": "quantitative"}}},
    {"data": {"values": [{}]}, "mark": {"type": "rule", "color": "#111", "strokeWidth": 1.2}, "encoding": {"x": {"datum": 4.007}, "y": {"datum": 0}, "y2": {"datum": 6.9}}},
    {"data": {"name": "seg"}, "mark": {"type": "rule", "color": "#9a9a9a", "strokeWidth": 1.8}, "encoding": {"x": {"field": "s", "type": "quantitative"}, "y": {"datum": 6.9}, "y2": {"datum": -0.4}}},
    {"data": {"name": "seg"}, "mark": {"type": "text", "align": "right", "baseline": "top", "dx": -3, "dy": 1, "color": "#888", "fontSize": 12}, "encoding": {"x": {"field": "s", "type": "quantitative"}, "y": {"datum": 6.9}, "text": {"field": "a"}}},
    {"data": {"name": "seg"}, "mark": {"type": "text", "align": "left", "baseline": "top", "dx": 3, "dy": 1, "color": "#888", "fontSize": 12}, "encoding": {"x": {"field": "s", "type": "quantitative"}, "y": {"datum": 6.9}, "text": {"field": "b"}}},
    {"data": {"name": "box"}, "transform": [{"filter": "datum.b == 2"}], "mark": {"type": "rule", "color": "#333", "strokeWidth": 1.5}, "encoding": {"x": {"field": "x", "type": "quantitative"}, "y": {"datum": 9.99}, "y2": {"datum": -0.945}}},
    {"data": {"name": "peaks"}, "transform": [{"filter": "datum.p == 5"}], "mark": {"type": "text", "color": "#b83232", "fontSize": 12, "baseline": "middle"}, "encoding": {"x": {"field": "rt", "type": "quantitative"}, "y": {"field": "ly", "type": "quantitative"}, "text": {"field": "lab"}}},
    {"data": {"values": [{}]}, "mark": {"type": "text", "align": "left", "baseline": "middle", "font": "Roboto", "fontSize": 15, "color": "#111"}, "encoding": {"x": {"datum": 9.586}, "y": {"datum": 5.2}, "text": {"value": "Cotinine 174.6 > 104.1"}}}
  ]
},
{
  "width": 1229, "height": 80,
  "layer": [
    {"data": {"name": "trace"}, "transform": [{"filter": "datum.p == 6"}], "mark": {"type": "area", "color": "#44d444", "opacity": 0.28},
     "encoding": {"x": {"field": "t", "type": "quantitative", "scale": {"domain": [4.025, 11.32], "nice": false, "zero": false}, "axis": {"values": [4.5,5,5.5,6,6.5,7,7.5,8,8.5,9,9.5,10,10.5,11], "labels": false, "ticks": false, "domain": false, "title": null, "grid": true}},
                  "y": {"field": "v", "type": "quantitative", "scale": {"domain": [-0.4, 9.99], "nice": false, "zero": false}, "axis": {"values": [0, 5], "format": "~g", "domain": false, "offset": 3, "tickSize": 6, "labelPadding": 3, "labelFontSize": 12, "labelFontWeight": "bold", "title": "x10 ¹", "titleAngle": 0, "titleAlign": "left", "titleBaseline": "middle", "titleX": -45, "titleY": 11, "titleFontSize": 12, "titleFontWeight": "bold", "grid": true}}}},
    {"data": {"name": "trace"}, "transform": [{"filter": "datum.p == 6"}], "mark": {"type": "line", "color": "#44d444", "strokeWidth": 1.2},
     "encoding": {"x": {"field": "t", "type": "quantitative"}, "y": {"field": "v", "type": "quantitative"}}},
    {"data": {"values": [{}]}, "mark": {"type": "rule", "color": "#111", "strokeWidth": 1.2}, "encoding": {"x": {"datum": 4.007}, "y": {"datum": 0}, "y2": {"datum": 6.9}}},
    {"data": {"name": "seg"}, "mark": {"type": "rule", "color": "#9a9a9a", "strokeWidth": 1.8}, "encoding": {"x": {"field": "s", "type": "quantitative"}, "y": {"datum": 6.9}, "y2": {"datum": -0.4}}},
    {"data": {"name": "seg"}, "mark": {"type": "text", "align": "right", "baseline": "top", "dx": -3, "dy": 1, "color": "#888", "fontSize": 12}, "encoding": {"x": {"field": "s", "type": "quantitative"}, "y": {"datum": 6.9}, "text": {"field": "a"}}},
    {"data": {"name": "seg"}, "mark": {"type": "text", "align": "left", "baseline": "top", "dx": 3, "dy": 1, "color": "#888", "fontSize": 12}, "encoding": {"x": {"field": "s", "type": "quantitative"}, "y": {"datum": 6.9}, "text": {"field": "b"}}},
    {"data": {"name": "box"}, "transform": [{"filter": "datum.b == 2"}], "mark": {"type": "rule", "color": "#333", "strokeWidth": 1.5}, "encoding": {"x": {"field": "x", "type": "quantitative"}, "y": {"datum": 9.99}, "y2": {"datum": 0.05}}},
    {"data": {"values": [{}]}, "mark": {"type": "rule", "color": "#333", "strokeWidth": 1.5}, "encoding": {"x": {"datum": 8.555}, "x2": {"datum": 8.848}, "y": {"datum": 0.05}}},
    {"data": {"name": "peaks"}, "transform": [{"filter": "datum.p == 6"}], "mark": {"type": "text", "color": "#44d444", "fontSize": 12, "baseline": "middle"}, "encoding": {"x": {"field": "rt", "type": "quantitative"}, "y": {"field": "ly", "type": "quantitative"}, "text": {"field": "lab"}}},
    {"data": {"values": [{}]}, "mark": {"type": "text", "align": "left", "baseline": "middle", "font": "Roboto", "fontSize": 15, "color": "#111"}, "encoding": {"x": {"datum": 9.586}, "y": {"datum": 5.45}, "text": {"value": "Cotinine 174.6 > 118.0"}}}
  ]
},
{
  "width": 1229, "height": 80,
  "layer": [
    {"data": {"name": "trace"}, "transform": [{"filter": "datum.p == 7"}], "mark": {"type": "area", "color": "#3a94ee", "opacity": 0.28},
     "encoding": {"x": {"field": "t", "type": "quantitative", "scale": {"domain": [4.025, 11.32], "nice": false, "zero": false}, "axis": {"values": [4.5,5,5.5,6,6.5,7,7.5,8,8.5,9,9.5,10,10.5,11], "labels": false, "ticks": false, "domain": false, "title": null, "grid": true}},
                  "y": {"field": "v", "type": "quantitative", "scale": {"domain": [-0.4, 9.99], "nice": false, "zero": false}, "axis": {"values": [0, 5], "format": "~g", "domain": false, "offset": 3, "tickSize": 6, "labelPadding": 3, "labelFontSize": 12, "labelFontWeight": "bold", "title": "x10 ¹", "titleAngle": 0, "titleAlign": "left", "titleBaseline": "middle", "titleX": -45, "titleY": 11, "titleFontSize": 12, "titleFontWeight": "bold", "grid": true}}}},
    {"data": {"name": "trace"}, "transform": [{"filter": "datum.p == 7"}], "mark": {"type": "line", "color": "#3a94ee", "strokeWidth": 1.2},
     "encoding": {"x": {"field": "t", "type": "quantitative"}, "y": {"field": "v", "type": "quantitative"}}},
    {"data": {"values": [{}]}, "mark": {"type": "rule", "color": "#111", "strokeWidth": 1.2}, "encoding": {"x": {"datum": 4.007}, "y": {"datum": 0}, "y2": {"datum": 6.8}}},
    {"data": {"name": "seg"}, "mark": {"type": "rule", "color": "#9a9a9a", "strokeWidth": 1.8}, "encoding": {"x": {"field": "s", "type": "quantitative"}, "y": {"datum": 6.8}, "y2": {"datum": -0.4}}},
    {"data": {"name": "seg"}, "mark": {"type": "text", "align": "right", "baseline": "top", "dx": -3, "dy": 1, "color": "#888", "fontSize": 12}, "encoding": {"x": {"field": "s", "type": "quantitative"}, "y": {"datum": 6.8}, "text": {"field": "a"}}},
    {"data": {"name": "seg"}, "mark": {"type": "text", "align": "left", "baseline": "top", "dx": 3, "dy": 1, "color": "#888", "fontSize": 12}, "encoding": {"x": {"field": "s", "type": "quantitative"}, "y": {"datum": 6.8}, "text": {"field": "b"}}},
    {"data": {"name": "box"}, "transform": [{"filter": "datum.b == 3"}], "mark": {"type": "rule", "color": "#333", "strokeWidth": 1.5}, "encoding": {"x": {"field": "x", "type": "quantitative"}, "y": {"datum": 9.92}, "y2": {"datum": -0.945}}},
    {"data": {"values": [{}]}, "mark": {"type": "rule", "color": "#333", "strokeWidth": 1.5}, "encoding": {"x": {"datum": 9.692}, "x2": {"datum": 9.99}, "y": {"datum": 9.92}}},
    {"data": {"name": "peaks"}, "transform": [{"filter": "datum.p == 7"}], "mark": {"type": "text", "color": "#3a94ee", "fontSize": 12, "baseline": "middle"}, "encoding": {"x": {"field": "rt", "type": "quantitative"}, "y": {"field": "ly", "type": "quantitative"}, "text": {"field": "lab"}}},
    {"data": {"values": [{}]}, "mark": {"type": "text", "align": "left", "baseline": "middle", "font": "Roboto", "fontSize": 15, "color": "#111"}, "encoding": {"x": {"datum": 4.458}, "y": {"datum": 2.6}, "text": {"value": "Trans-3-hydroxycotinine d₃ 251 > 146"}}}
  ]
},
{
  "width": 1229, "height": 80,
  "layer": [
    {"data": {"name": "trace"}, "transform": [{"filter": "datum.p == 8"}], "mark": {"type": "area", "color": "#ff8c1a", "opacity": 0.28},
     "encoding": {"x": {"field": "t", "type": "quantitative", "scale": {"domain": [4.025, 11.32], "nice": false, "zero": false}, "axis": {"values": [4.5,5,5.5,6,6.5,7,7.5,8,8.5,9,9.5,10,10.5,11], "labels": false, "ticks": false, "domain": false, "title": null, "grid": true}},
                  "y": {"field": "v", "type": "quantitative", "scale": {"domain": [-0.05, 1.459], "nice": false, "zero": false}, "axis": {"values": [0, 0.5, 1], "tickCount": 3, "format": "~g", "domain": false, "offset": 3, "tickSize": 6, "labelPadding": 3, "labelFontSize": 12, "labelFontWeight": "bold", "title": "x10 ²", "titleAngle": 0, "titleAlign": "left", "titleBaseline": "middle", "titleX": -45, "titleY": 11, "titleFontSize": 12, "titleFontWeight": "bold", "grid": true}}}},
    {"data": {"name": "trace"}, "transform": [{"filter": "datum.p == 8"}], "mark": {"type": "line", "color": "#ff8c1a", "strokeWidth": 1.2},
     "encoding": {"x": {"field": "t", "type": "quantitative"}, "y": {"field": "v", "type": "quantitative"}}},
    {"data": {"values": [{}]}, "mark": {"type": "rule", "color": "#111", "strokeWidth": 1.2}, "encoding": {"x": {"datum": 4.007}, "y": {"datum": 0}, "y2": {"datum": 1.02}}},
    {"data": {"name": "seg"}, "mark": {"type": "rule", "color": "#9a9a9a", "strokeWidth": 1.8}, "encoding": {"x": {"field": "s", "type": "quantitative"}, "y": {"datum": 1.02}, "y2": {"datum": -0.05}}},
    {"data": {"name": "seg"}, "mark": {"type": "text", "align": "right", "baseline": "top", "dx": -3, "dy": 1, "color": "#888", "fontSize": 12}, "encoding": {"x": {"field": "s", "type": "quantitative"}, "y": {"datum": 1.02}, "text": {"field": "a"}}},
    {"data": {"name": "seg"}, "mark": {"type": "text", "align": "left", "baseline": "top", "dx": 3, "dy": 1, "color": "#888", "fontSize": 12}, "encoding": {"x": {"field": "s", "type": "quantitative"}, "y": {"datum": 1.02}, "text": {"field": "b"}}},
    {"data": {"name": "box"}, "transform": [{"filter": "datum.b == 3"}], "mark": {"type": "rule", "color": "#333", "strokeWidth": 1.5}, "encoding": {"x": {"field": "x", "type": "quantitative"}, "y": {"datum": 1.459}, "y2": {"datum": -0.129}}},
    {"data": {"name": "peaks"}, "transform": [{"filter": "datum.p == 8"}], "mark": {"type": "text", "color": "#ff8c1a", "fontSize": 12, "baseline": "middle"}, "encoding": {"x": {"field": "rt", "type": "quantitative"}, "y": {"field": "ly", "type": "quantitative"}, "text": {"field": "lab"}}},
    {"data": {"values": [{}]}, "mark": {"type": "text", "align": "left", "baseline": "middle", "font": "Roboto", "fontSize": 15, "color": "#111"}, "encoding": {"x": {"datum": 4.44}, "y": {"datum": 0.515}, "text": {"value": "Trans-3-hydroxycotinine 248.4 > 175.1"}}}
  ]
},
{
  "width": 1229, "height": 80,
  "layer": [
    {"data": {"name": "trace"}, "transform": [{"filter": "datum.p == 9"}], "mark": {"type": "area", "color": "#f020f0", "opacity": 0.28},
     "encoding": {"x": {"field": "t", "type": "quantitative", "scale": {"domain": [4.025, 11.32], "nice": false, "zero": false}, "axis": {"values": [4.5,5,5.5,6,6.5,7,7.5,8,8.5,9,9.5,10,10.5,11], "format": "~g", "domain": false, "grid": true, "tickSize": 4, "labelPadding": 2, "labelFontSize": 12, "labelFontWeight": "bold", "title": "Counts (%) vs. Acquisition Time (min)", "titleFont": "Liberation Sans", "titleFontSize": 14.5, "titleFontWeight": "normal", "titlePadding": 14}},
                  "y": {"field": "v", "type": "quantitative", "scale": {"domain": [-0.05, 1.459], "nice": false, "zero": false}, "axis": {"values": [0, 0.5, 1], "tickCount": 3, "format": "~g", "domain": false, "offset": 3, "tickSize": 6, "labelPadding": 3, "labelFontSize": 12, "labelFontWeight": "bold", "title": "x10 ²", "titleAngle": 0, "titleAlign": "left", "titleBaseline": "middle", "titleX": -45, "titleY": 11, "titleFontSize": 12, "titleFontWeight": "bold", "grid": true}}}},
    {"data": {"name": "trace"}, "transform": [{"filter": "datum.p == 9"}], "mark": {"type": "line", "color": "#f020f0", "strokeWidth": 1.2},
     "encoding": {"x": {"field": "t", "type": "quantitative"}, "y": {"field": "v", "type": "quantitative"}}},
    {"data": {"values": [{}]}, "mark": {"type": "rule", "color": "#111", "strokeWidth": 1.2}, "encoding": {"x": {"datum": 4.007}, "y": {"datum": 0}, "y2": {"datum": 1.0}}},
    {"data": {"name": "seg"}, "mark": {"type": "rule", "color": "#9a9a9a", "strokeWidth": 1.8}, "encoding": {"x": {"field": "s", "type": "quantitative"}, "y": {"datum": 1.0}, "y2": {"datum": -0.05}}},
    {"data": {"name": "seg"}, "mark": {"type": "text", "align": "right", "baseline": "top", "dx": -3, "dy": 1, "color": "#888", "fontSize": 12}, "encoding": {"x": {"field": "s", "type": "quantitative"}, "y": {"datum": 1.0}, "text": {"field": "a"}}},
    {"data": {"name": "seg"}, "mark": {"type": "text", "align": "left", "baseline": "top", "dx": 3, "dy": 1, "color": "#888", "fontSize": 12}, "encoding": {"x": {"field": "s", "type": "quantitative"}, "y": {"datum": 1.0}, "text": {"field": "b"}}},
    {"data": {"name": "box"}, "transform": [{"filter": "datum.b == 3"}], "mark": {"type": "rule", "color": "#333", "strokeWidth": 1.5}, "encoding": {"x": {"field": "x", "type": "quantitative"}, "y": {"datum": 1.459}, "y2": {"datum": -0.04}}},
    {"data": {"values": [{}]}, "mark": {"type": "rule", "color": "#333", "strokeWidth": 1.5}, "encoding": {"x": {"datum": 9.692}, "x2": {"datum": 9.99}, "y": {"datum": -0.04}}},
    {"data": {"name": "peaks"}, "transform": [{"filter": "datum.p == 9"}], "mark": {"type": "text", "color": "#f020f0", "fontSize": 12, "baseline": "middle"}, "encoding": {"x": {"field": "rt", "type": "quantitative"}, "y": {"field": "ly", "type": "quantitative"}, "text": {"field": "lab"}}},
    {"data": {"values": [{}]}, "mark": {"type": "text", "align": "left", "baseline": "middle", "font": "Roboto", "fontSize": 15, "color": "#111"}, "encoding": {"x": {"datum": 4.44}, "y": {"datum": 0.59}, "text": {"value": "Trans-3-hydroxycotinine 248.4 > 218.1"}}}
  ]
}
]
}
